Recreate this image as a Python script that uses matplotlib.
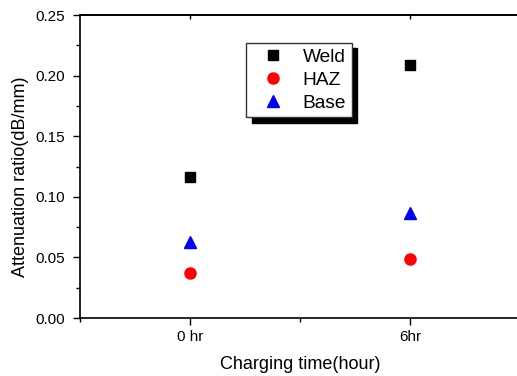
import matplotlib.pyplot as plt
from matplotlib.ticker import MultipleLocator, FixedLocator

plt.rcParams['font.family'] = ['Liberation Sans', 'DejaVu Sans']

# data
times = ['0 hr', '6hr']
weld = [0.116, 0.209]
haz = [0.037, 0.049]
base = [0.063, 0.087]

x = [1, 2]

fig = plt.figure(figsize=(5.17, 3.76), dpi=100)
ax = fig.add_axes([0.1547, 0.154, 0.8511, 0.806])

ax.plot(x, weld, 's', color='black', markersize=7, label='Weld', linestyle='none')
ax.plot(x, haz, 'o', color='red', markersize=8, label='HAZ', linestyle='none')
ax.plot(x, base, '^', color='blue', markersize=8.5, label='Base', linestyle='none')

ax.set_xlim(0.5, 2.5)
ax.set_ylim(0, 0.25)
ax.set_xticks(x)
ax.set_xticklabels(times)
ax.xaxis.set_minor_locator(FixedLocator([0.5, 1.5, 2.5]))
ax.yaxis.set_major_locator(MultipleLocator(0.05))
ax.yaxis.set_minor_locator(MultipleLocator(0.025))
ax.yaxis.set_major_formatter(plt.FormatStrFormatter('%.2f'))

ax.tick_params(which='major', direction='out', length=5, width=1, labelsize=11)
ax.tick_params(axis='y', which='major', pad=6)
ax.tick_params(which='minor', direction='out', length=3, width=1)
for sp in ax.spines.values():
    sp.set_linewidth(1.2)
ax.spines['right'].set_visible(False)

# small inward ticks on the top edge
top = ax.secondary_xaxis('top')
top.set_xticks(x)
top.set_xticklabels([])
top.tick_params(direction='in', length=3, width=1)
top.spines['top'].set_linewidth(1.2)

ax.set_xlabel('Charging time(hour)', fontsize=13, labelpad=9)
ax.set_ylabel('Attenuation ratio(dB/mm)', fontsize=13)
ax.yaxis.set_label_coords(-0.116, 0.465)

ax.legend(loc='upper left', bbox_to_anchor=(0.476, 0.886),
          bbox_transform=fig.transFigure, fontsize=13.8, frameon=True,
          fancybox=False, edgecolor='#333333', framealpha=1,
          shadow={'color': 'black', 'alpha': 1, 'ox': 4, 'oy': -4},
          handlelength=2.2, handletextpad=0.45, borderpad=0.3,
          labelspacing=0.28, borderaxespad=0)

fig.savefig('out.png', dpi=100)
